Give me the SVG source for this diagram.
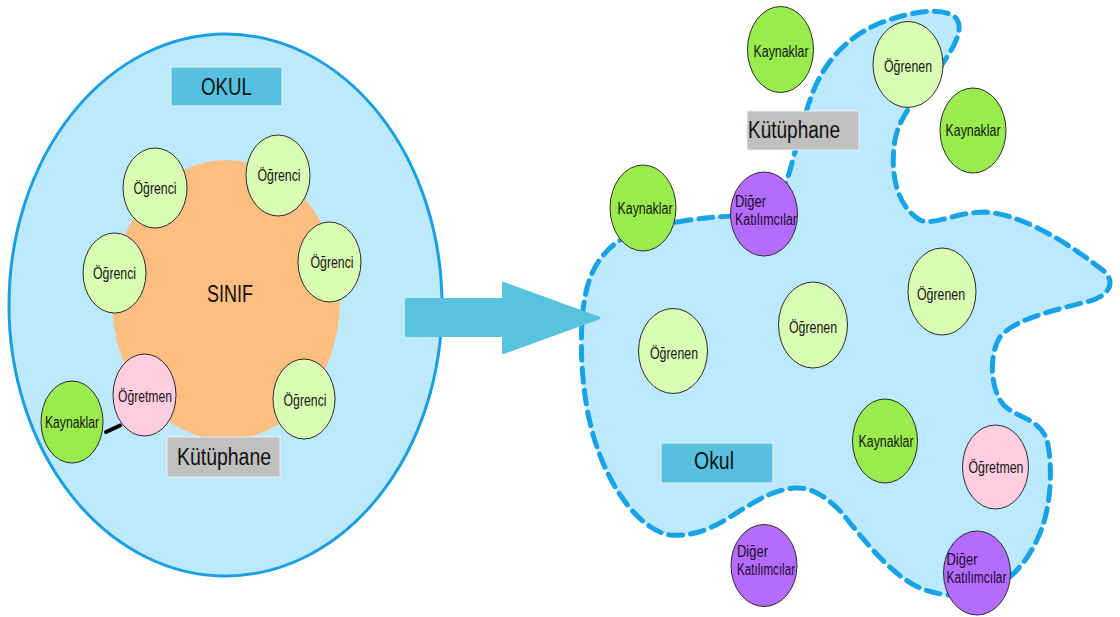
<svg xmlns="http://www.w3.org/2000/svg" width="1120" height="617" viewBox="0 0 1120 617">
  <style>
    .lbl { font-family: "Liberation Sans Narrow", "Liberation Sans", Arial, sans-serif; font-size: 16px; fill: #151515; text-anchor: middle; }
    .lbl2 { font-family: "Liberation Sans Narrow", "Liberation Sans", Arial, sans-serif; font-size: 16px; fill: #1e0a2e; text-anchor: start; }
    .big { font-family: "Liberation Sans Narrow", "Liberation Sans", Arial, sans-serif; font-size: 23px; fill: #111; text-anchor: middle; }
    .ogr { fill: #d9fdb2; stroke: #2b2b2b; stroke-width: 1; }
    .kay { fill: #99eb4e; stroke: #2b2b2b; stroke-width: 1; }
    .ogt { fill: #ffcde0; stroke: #2b2b2b; stroke-width: 1; }
    .dig { fill: #b46cff; stroke: #2b2b2b; stroke-width: 1; }
    .teal { fill: #56c1de; stroke: #eaf6fb; stroke-width: 1; }
    .grey { fill: #c0c0c0; stroke: #efefef; stroke-width: 1; }
  </style>

  <!-- left side: school with classroom -->
  <g id="okul-left">
    <ellipse cx="225.5" cy="305" rx="216.5" ry="271" fill="#bde9fd" stroke="#1a9fe2" stroke-width="3"/>
    <rect class="teal" x="171" y="67" width="111" height="39"/>
    <text class="big" x="226.5" y="95" textLength="51" lengthAdjust="spacingAndGlyphs">OKUL</text>
  </g>

  <g id="sinif">
    <ellipse cx="226" cy="300" rx="114" ry="140" fill="#fdbe81"/>
    <text class="big" x="230" y="302" textLength="46" lengthAdjust="spacingAndGlyphs">SINIF</text>
  </g>

  <g id="kutuphane-left">
    <rect class="grey" x="167" y="437" width="113" height="40"/>
    <text class="big" x="224" y="465" textLength="94" lengthAdjust="spacingAndGlyphs">Kütüphane</text>
  </g>

  <g id="ogrenci-1">
    <ellipse class="ogr" cx="155" cy="188" rx="32" ry="40"/>
    <text class="lbl" x="155" y="193.5" textLength="43" lengthAdjust="spacingAndGlyphs">Öğrenci</text>
  </g>
  <g id="ogrenci-2">
    <ellipse class="ogr" cx="278" cy="175.5" rx="32" ry="40.5"/>
    <text class="lbl" x="279" y="180.5" textLength="43" lengthAdjust="spacingAndGlyphs">Öğrenci</text>
  </g>
  <g id="ogrenci-3">
    <ellipse class="ogr" cx="114.5" cy="273" rx="31.5" ry="40"/>
    <text class="lbl" x="114.5" y="279" textLength="43" lengthAdjust="spacingAndGlyphs">Öğrenci</text>
  </g>
  <g id="ogrenci-4">
    <ellipse class="ogr" cx="329.5" cy="262" rx="31.5" ry="40"/>
    <text class="lbl" x="332" y="268" textLength="43" lengthAdjust="spacingAndGlyphs">Öğrenci</text>
  </g>
  <g id="ogrenci-5">
    <ellipse class="ogr" cx="304" cy="399" rx="31" ry="40"/>
    <text class="lbl" x="305" y="406" textLength="43" lengthAdjust="spacingAndGlyphs">Öğrenci</text>
  </g>
  <g id="ogretmen-left">
    <ellipse class="ogt" cx="144.5" cy="395" rx="31.5" ry="41"/>
    <text class="lbl" x="145" y="401.5" textLength="54" lengthAdjust="spacingAndGlyphs">Öğretmen</text>
  </g>
  <g id="kaynaklar-left">
    <ellipse class="kay" cx="72" cy="422" rx="31" ry="41"/>
    <text class="lbl" x="72" y="427.5" textLength="54" lengthAdjust="spacingAndGlyphs">Kaynaklar</text>
  </g>

  <!-- right side: open learning space -->
  <g id="okul-right">
    <path d="M 677,222 C 700,218 720,216 745,216 C 770,216 783,195 790,170 C 797,145 803,120 810,100 C 820,70 840,40 880,23 C 910,12 940,6 955,17 C 965,27 955,45 945,60 C 930,85 900,110 895,140 C 890,170 895,205 920,220 C 935,226 955,212 985,212 C 1025,214 1075,248 1105,272 C 1115,283 1110,295 1090,301 C 1060,309 1015,318 1000,337 C 988,355 990,395 1007,408 C 1020,418 1040,420 1047,440 C 1053,465 1052,510 1037,540 C 1025,565 1010,580 990,590 C 970,598 940,597 920,588 C 890,575 860,535 842,513 C 825,495 810,487 795,488 C 770,490 750,505 730,517 C 710,530 690,537 670,535 C 640,530 612,490 598,450 C 585,415 578,360 583,310 C 586,285 592,265 610,248 C 630,230 655,224 677,222 Z" fill="#bce9fd" stroke="#18a3e6" stroke-width="5" stroke-dasharray="14 8" stroke-linecap="round"/>
    <rect class="teal" x="661" y="443" width="112" height="40"/>
    <text class="big" x="714" y="469" textLength="40" lengthAdjust="spacingAndGlyphs">Okul</text>
  </g>

  <g id="kutuphane-right">
    <rect class="grey" x="747" y="111" width="112" height="39"/>
    <text class="big" x="794" y="138" textLength="92" lengthAdjust="spacingAndGlyphs">Kütüphane</text>
  </g>

  <g id="kaynaklar-top">
    <ellipse class="kay" cx="780.5" cy="49.5" rx="33" ry="43"/>
    <text class="lbl" x="781" y="57" textLength="55" lengthAdjust="spacingAndGlyphs">Kaynaklar</text>
  </g>
  <g id="ogrenen-top">
    <ellipse class="ogr" cx="908" cy="64.5" rx="35" ry="43"/>
    <text class="lbl" x="908" y="71.5" textLength="48" lengthAdjust="spacingAndGlyphs">Öğrenen</text>
  </g>
  <g id="kaynaklar-right">
    <ellipse class="kay" cx="973" cy="130.5" rx="33" ry="42.5"/>
    <text class="lbl" x="973" y="136" textLength="55" lengthAdjust="spacingAndGlyphs">Kaynaklar</text>
  </g>
  <g id="kaynaklar-mid">
    <ellipse class="kay" cx="643" cy="208" rx="33" ry="43"/>
    <text class="lbl" x="645" y="214" textLength="55" lengthAdjust="spacingAndGlyphs">Kaynaklar</text>
  </g>
  <g id="diger-top">
    <ellipse class="dig" cx="764" cy="214" rx="33.5" ry="42"/>
    <text class="lbl2" x="735" y="207" textLength="31" lengthAdjust="spacingAndGlyphs">Diğer</text>
    <text class="lbl2" x="735" y="225" textLength="62" lengthAdjust="spacingAndGlyphs">Katılımcılar</text>
  </g>
  <g id="ogrenen-right">
    <ellipse class="ogr" cx="942" cy="291.5" rx="34" ry="43.5"/>
    <text class="lbl" x="941" y="300" textLength="48" lengthAdjust="spacingAndGlyphs">Öğrenen</text>
  </g>
  <g id="ogrenen-center">
    <ellipse class="ogr" cx="813" cy="325" rx="34.5" ry="43"/>
    <text class="lbl" x="813" y="333" textLength="48" lengthAdjust="spacingAndGlyphs">Öğrenen</text>
  </g>
  <g id="ogrenen-left">
    <ellipse class="ogr" cx="673" cy="351" rx="34.5" ry="42.5"/>
    <text class="lbl" x="674" y="358.5" textLength="48" lengthAdjust="spacingAndGlyphs">Öğrenen</text>
  </g>
  <g id="kaynaklar-bottom">
    <ellipse class="kay" cx="885" cy="441" rx="32.5" ry="42"/>
    <text class="lbl" x="886" y="446.5" textLength="55" lengthAdjust="spacingAndGlyphs">Kaynaklar</text>
  </g>
  <g id="ogretmen-right">
    <ellipse class="ogt" cx="995.5" cy="467" rx="33" ry="42"/>
    <text class="lbl" x="996" y="472.5" textLength="55" lengthAdjust="spacingAndGlyphs">Öğretmen</text>
  </g>
  <g id="diger-bottom-left">
    <ellipse class="dig" cx="764" cy="565.5" rx="33" ry="41"/>
    <text class="lbl2" x="737" y="557" textLength="31" lengthAdjust="spacingAndGlyphs">Diğer</text>
    <text class="lbl2" x="737" y="575" textLength="58" lengthAdjust="spacingAndGlyphs">Katılımcılar</text>
  </g>
  <g id="diger-bottom-right">
    <ellipse class="dig" cx="977" cy="573" rx="33.5" ry="42"/>
    <text class="lbl2" x="946.5" y="565" textLength="31" lengthAdjust="spacingAndGlyphs">Diğer</text>
    <text class="lbl2" x="946.5" y="583" textLength="60" lengthAdjust="spacingAndGlyphs">Katılımcılar</text>
  </g>

  <!-- connectors -->
  <g id="connectors">
    <line x1="106" y1="432" x2="120" y2="425.5" stroke="#000" stroke-width="4" stroke-linecap="round"/>
    <path d="M 407,298 L 502,298 L 502,283 Q 502,281 504,282 L 599,316.5 Q 602,318 599,319.5 L 504,354 Q 502,355 502,353 L 502,337 L 407,337 Q 405,337 405,335 L 405,300 Q 405,298 407,298 Z" fill="#59c2dd"/>
  </g>
</svg>
